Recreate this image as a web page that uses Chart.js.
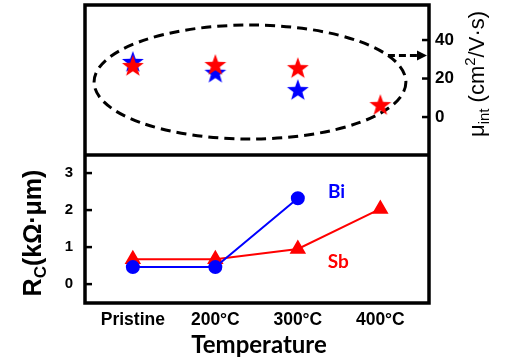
<!DOCTYPE html>
<html>
<head>
<meta charset="utf-8">
<script src="https://cdn.jsdelivr.net/npm/chart.js@4/dist/chart.umd.min.js"></script>
<style>
  body { margin: 0; background: #fff; }
  canvas { display: block; }
</style>
</head>
<body>
<canvas id="chart" width="506" height="362"></canvas>
<script>
const categories = ['Pristine', '200°C', '300°C', '400°C']
const muBi = [28.6, 23, 14, null]
const muSb = [26.5, 27, 25.4, 6.2]
const rcBi = [0.46, 0.46, 2.32, null]
const rcSb = [0.67, 0.67, 0.95, 2.03]
const rcTicks = [0, 1, 2, 3]
const muTicks = [0, 20, 40]

const BLUE = 'rgb(0,0,255)'
const RED = 'rgb(255,0,0)'

function starImage(color) {
  let c = document.createElement('canvas')
  c.width = 24
  c.height = 24
  let g = c.getContext('2d')
  g.beginPath()
  for (let i = 0; i < 10; i++) {
    let r = i % 2 === 0 ? 11.5 : 4.7
    let a = -Math.PI / 2 + i * Math.PI / 5
    g.lineTo(12 + r * Math.cos(a), 12.5 + r * Math.sin(a))
  }
  g.closePath()
  g.fillStyle = color
  g.fill()
  return c
}

function points(values) {
  return values.map((v, i) => ({ x: i, y: v }))
}

// no auto padding, the frame is placed by hand
function fixBox(s, size) {
  if (s.isHorizontal()) s.height = size
  else s.width = size
  s.paddingTop = 0
  s.paddingBottom = 0
  s.paddingLeft = 0
  s.paddingRight = 0
}

// draw rotated text made of pieces (for sub/superscripts)
function rotatedText(ctx, parts, x, y) {
  ctx.save()
  ctx.translate(x, y)
  ctx.rotate(-Math.PI / 2)
  ctx.textAlign = 'left'
  ctx.textBaseline = 'alphabetic'
  let w = 0
  parts.forEach(p => { ctx.font = p[1]; w += ctx.measureText(p[0]).width })
  let px = -w / 2
  parts.forEach(p => {
    ctx.font = p[1]
    ctx.fillText(p[0], px, p[2])
    px += ctx.measureText(p[0]).width
  })
  ctx.restore()
}

// frame, divider, inward ticks, ellipse, arrow, labels
const decor = {
  id: 'decor',
  beforeDatasetsDraw(chart) {
    const { ctx, scales } = chart
    const x = scales.x, mu = scales.yMu
    let cx = x.getPixelForValue(1.42)
    let cy = mu.getPixelForValue(18.2)
    let rx = x.getPixelForValue(1.42 + 1.89) - cx
    let ry = cy - mu.getPixelForValue(18.2 + 29.6)
    ctx.save()
    ctx.strokeStyle = '#000'
    ctx.lineWidth = 3
    ctx.setLineDash([10, 6])
    ctx.beginPath()
    ctx.ellipse(cx, cy, rx, ry, 0, 0, Math.PI * 2)
    ctx.stroke()

    // arrow to right axis
    let py = mu.getPixelForValue(32)
    let t = (py - cy) / ry
    let sx = cx + rx * Math.sqrt(1 - t * t)
    let ex = chart.chartArea.right - 2
    ctx.setLineDash([7, 4])
    ctx.beginPath()
    ctx.moveTo(sx, py)
    ctx.lineTo(ex - 8, py)
    ctx.stroke()
    ctx.setLineDash([])
    ctx.fillStyle = '#000'
    ctx.beginPath()
    ctx.moveTo(ex, py)
    ctx.lineTo(ex - 10, py - 5)
    ctx.lineTo(ex - 10, py + 5)
    ctx.closePath()
    ctx.fill()
    ctx.restore()
  },
  afterDraw(chart) {
    const { ctx, chartArea: a, scales } = chart
    const rc = scales.yRc, mu = scales.yMu, x = scales.x
    ctx.save()
    ctx.strokeStyle = '#000'
    ctx.lineWidth = 3.5
    ctx.strokeRect(a.left, a.top, a.right - a.left, a.bottom - a.top)
    let dy = rc.getPixelForValue(3.49)
    ctx.beginPath()
    ctx.moveTo(a.left, dy)
    ctx.lineTo(a.right, dy)
    ctx.stroke()
    ctx.lineWidth = 2.5
    rcTicks.forEach(v => {
      let y = rc.getPixelForValue(v)
      ctx.beginPath()
      ctx.moveTo(a.left, y)
      ctx.lineTo(a.left + 7, y)
      ctx.stroke()
    })
    muTicks.forEach(v => {
      let y = mu.getPixelForValue(v)
      ctx.beginPath()
      ctx.moveTo(a.right, y)
      ctx.lineTo(a.right - 7, y)
      ctx.stroke()
    })

    // series labels
    ctx.font = 'bold 19px Lato'
    ctx.textAlign = 'center'
    ctx.textBaseline = 'middle'
    ctx.fillStyle = BLUE
    ctx.fillText('Bi', x.getPixelForValue(2.47), rc.getPixelForValue(2.49))
    ctx.fillStyle = RED
    ctx.fillText('Sb', x.getPixelForValue(2.49), rc.getPixelForValue(0.6))

    // x title
    ctx.fillStyle = '#000'
    ctx.font = 'bold 24px Lato'
    ctx.fillText('Temperature', 259, 345)

    // axis titles
    let big = 'bold 25px Liberation Sans'
    let small = 'bold 17px Liberation Sans'
    rotatedText(ctx, [['R', big, 0], ['C', small, 5], ['(kΩ·μm)', big, 0]], 41, 233)
    let reg = '22px Liberation Sans'
    let sub = '15px Liberation Sans'
    rotatedText(ctx, [['μ', reg, 0], ['int', sub, 5], [' (cm', reg, 0], ['2', sub, -9], ['/V·s)', reg, 0]], 484, 74)
    ctx.restore()
  }
}

new Chart(document.getElementById('chart'), {
  type: 'line',
  data: {
    datasets: [
      {
        data: points(muBi), yAxisID: 'yMu', showLine: false, order: 2,
        pointStyle: starImage(BLUE)
      },
      {
        // red stars sit on top of the blue ones
        data: points(muSb), yAxisID: 'yMu', showLine: false, order: 1,
        pointStyle: starImage(RED)
      },
      {
        data: points(rcBi), yAxisID: 'yRc', borderColor: BLUE, backgroundColor: BLUE,
        borderWidth: 2, pointStyle: 'circle', pointRadius: 6, order: 3
      },
      {
        data: points(rcSb), yAxisID: 'yRc', borderColor: RED, backgroundColor: RED,
        borderWidth: 2, pointStyle: 'triangle', pointRadius: 7.5, order: 4
      }
    ]
  },
  options: {
    responsive: false,
    animation: false,
    layout: { padding: { top: 5 }, autoPadding: false },
    plugins: { legend: { display: false }, tooltip: { enabled: false } },
    elements: { line: { tension: 0 }, point: { borderWidth: 0 } },
    scales: {
      x: {
        type: 'linear', min: -0.58, max: 3.59,
        afterBuildTicks: s => { s.ticks = categories.map((c, i) => ({ value: i })) },
        afterFit: s => fixBox(s, 59),
        grid: { display: false, drawTicks: false },
        border: { display: false },
        ticks: {
          font: { family: 'Liberation Sans', weight: 'bold', size: 17.5 },
          color: '#000', padding: 7, maxRotation: 0, callback: v => categories[v]
        }
      },
      yRc: {
        position: 'left', min: -0.51, max: 7.54,
        afterBuildTicks: s => { s.ticks = rcTicks.map(v => ({ value: v })) },
        afterFit: s => fixBox(s, 85),
        grid: { display: false, drawTicks: false },
        border: { display: false },
        ticks: { font: { family: 'Liberation Sans', weight: 'bold', size: 15 }, color: '#000', padding: 12 }
      },
      yMu: {
        position: 'right', min: -96.6, max: 58.2,
        afterBuildTicks: s => { s.ticks = muTicks.map(v => ({ value: v })) },
        afterFit: s => fixBox(s, 77),
        grid: { display: false, drawTicks: false },
        border: { display: false },
        ticks: { font: { family: 'Liberation Sans', weight: 'bold', size: 17 }, color: '#000', padding: 6 }
      }
    }
  },
  plugins: [decor]
})
</script>
</body>
</html>
